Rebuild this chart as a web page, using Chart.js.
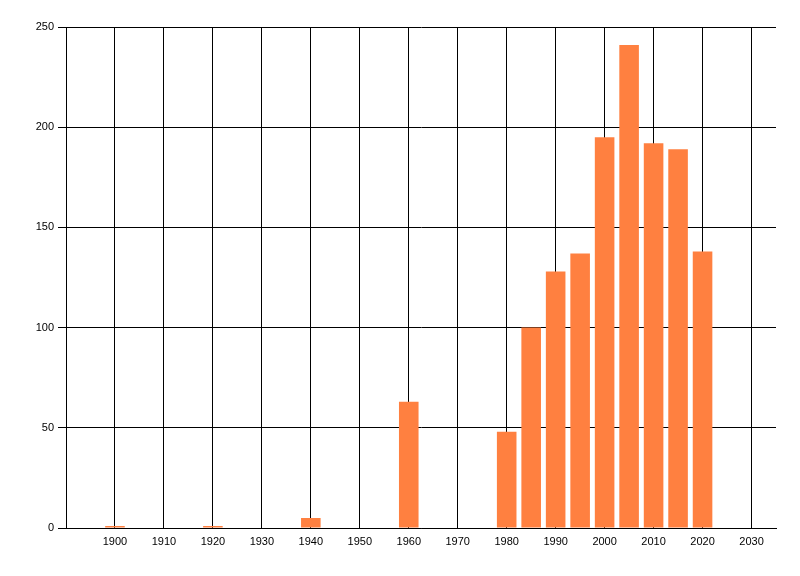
<!DOCTYPE html>
<html>
<head>
<meta charset="utf-8">
<script src="https://cdn.jsdelivr.net/npm/chart.js@4"></script>
<style>
html,body{margin:0;padding:0;background:#fff;}
#wrap{width:800px;height:576px;}
</style>
</head>
<body>
<div id="wrap"><canvas id="c" width="800" height="576"></canvas></div>
<script>
const years = [1900, 1920, 1940, 1960, 1980, 1985, 1990, 1995, 2000, 2005, 2010, 2015, 2020];
const counts = [1, 1, 5, 63, 48, 100, 128, 137, 195, 241, 192, 189, 138];
const xTickValues = [1900, 1910, 1920, 1930, 1940, 1950, 1960, 1970, 1980, 1990, 2000, 2010, 2020, 2030];
const yTickValues = [0, 50, 100, 150, 200, 250];

const points = years.map((y, i) => ({x: y, y: counts[i]}));

new Chart(document.getElementById('c'), {
  type: 'bar',
  data: {
    datasets: [{
      data: points,
      backgroundColor: '#FF8040',
      borderWidth: 0,
      barPercentage: 0.8,
      categoryPercentage: 1.0
    }]
  },
  options: {
    responsive: false,
    animation: false,
    devicePixelRatio: 1,
    layout: {padding: {left: 0, right: 24, top: 27, bottom: 0}},
    plugins: {legend: {display: false}, tooltip: {enabled: false}},
    scales: {
      x: {
        type: 'linear',
        min: 1890,
        max: 2035,
        offset: false,
        afterBuildTicks: s => { s.ticks = xTickValues.map(v => ({value: v})); },
        afterFit: s => { s.height = 48; },
        grid: {color: '#000', lineWidth: 1, drawTicks: false, offset: false},
        border: {color: '#000', width: 1},
        ticks: {color: '#000', font: {family: 'Liberation Sans', size: 11}, padding: 7, maxRotation: 0, autoSkip: false,
                callback: v => String(v)}
      },
      y: {
        min: 0,
        max: 250,
        afterBuildTicks: s => { s.ticks = yTickValues.map(v => ({value: v})); },
        afterFit: s => { s.width = 66; },
        grid: {color: '#000', lineWidth: 1, drawTicks: true, tickLength: 8},
        border: {color: '#000', width: 1},
        ticks: {color: '#000', font: {family: 'Liberation Sans', size: 11}, padding: 4,
                callback: v => String(v)}
      }
    }
  }
});
</script>
</body>
</html>
